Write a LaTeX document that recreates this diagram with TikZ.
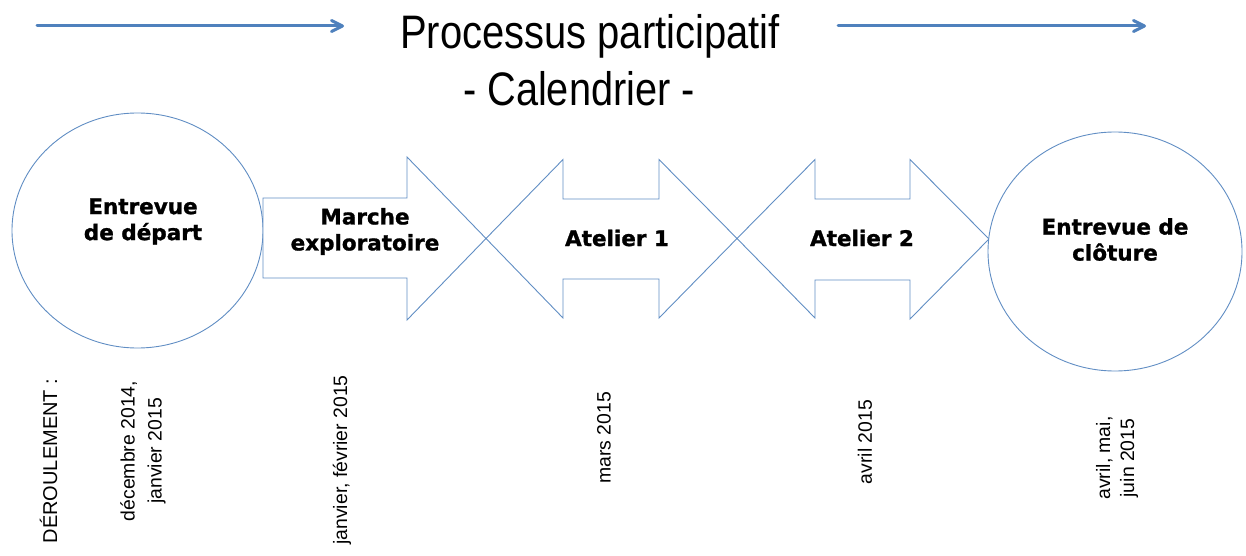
\documentclass[tikz,border=0pt]{standalone}
\usepackage{fontspec}
\usepackage{graphicx}
\setmainfont{Liberation Sans}
\newfontfamily\labelfont{DejaVu Sans}[BoldFeatures={FakeBold=1.2}]
\usetikzlibrary{arrows.meta}
\definecolor{accent}{RGB}{79,129,189}

\tikzset{
  stage/.style={draw=accent!90, line width=0.9pt, fill=white, line join=miter},
  stagelabel/.style={font=\labelfont\bfseries\fontsize{21.5}{26}\selectfont, align=center, inner sep=0pt},
  datelabel/.style={rotate=90, font=\fontsize{19.4}{27}\selectfont, align=center, inner sep=0pt},
  titleline/.style={font=\fontsize{47}{57}\selectfont, anchor=base, inner sep=0pt},
  flowarrow/.style={draw=accent, line width=3pt, line cap=round,
    -{Straight Barb[length=11pt,width=11pt,round]}}
}

\begin{document}
\begin{tikzpicture}[x=1pt, y=-1pt]
  \useasboundingbox (0,0) rectangle (1246,556);

  % title and the two flow arrows beside it
  \node[titleline] (title1) at (590,49) {\scalebox{0.85}[1]{Processus participatif}};
  \node[titleline] (title2) at (579,106) {\scalebox{0.845}[1]{- Calendrier -}};
  \coordinate (flowLa) at (37,26);
  \coordinate (flowLb) at (344,26);
  \coordinate (flowRa) at (838,26);
  \coordinate (flowRb) at (1146,26);
  \draw[flowarrow] (flowLa) -- (flowLb);
  \draw[flowarrow] (flowRa) -- (flowRb);

  % opening interview
  \draw[stage] (137.5,230.5) ellipse [x radius=125.5pt, y radius=117.5pt];

  % exploratory walk: single arrow
  \draw[stage] (263,198) -- (407,198) -- (407,157) -- (486,238.5)
    -- (407,320) -- (407,278) -- (263,278) -- cycle;

  % workshop 1: double arrow
  \draw[stage] (486,238.5) -- (563,159.5) -- (563,199) -- (659,199) -- (659,159.5)
    -- (737,238.5) -- (659,318) -- (659,279) -- (563,279) -- (563,318) -- cycle;

  % workshop 2: double arrow
  \draw[stage] (737,238.5) -- (815,159.5) -- (815,199) -- (910,199) -- (910,159.5)
    -- (989,239) -- (910,319) -- (910,280) -- (815,280) -- (815,318) -- cycle;

  % closing interview
  \draw[stage] (1115,251.5) ellipse [x radius=127pt, y radius=119.5pt];

  % stage labels
  \node[stagelabel] (depart) at (143,221.5) {Entrevue\\de départ};
  \node[stagelabel] (marche) at (365,231.5) {Marche\\exploratoire};
  \node[stagelabel] (atelier1) at (617,238) {Atelier 1};
  \node[stagelabel] (atelier2) at (862,238) {Atelier 2};
  \node[stagelabel] (cloture) at (1115,239.5) {Entrevue de\\clôture};

  % schedule, written vertically
  \node[datelabel, font=\fontsize{20}{27}\selectfont] (deroul) at (48.5,461) {DÉROULEMENT :};
  \node[datelabel] (dDepart) at (143,451) {décembre 2014,\\janvier 2015};
  \node[datelabel] (dMarche) at (342,460) {janvier, février 2015};
  \node[datelabel] (dAtelier1) at (604,438) {mars 2015};
  \node[datelabel] (dAtelier2) at (865,442) {avril 2015};
  \node[datelabel, font=\fontsize{19.4}{24}\selectfont] (dCloture) at (1117,458) {avril, mai,\\juin 2015};
\end{tikzpicture}
\end{document}
